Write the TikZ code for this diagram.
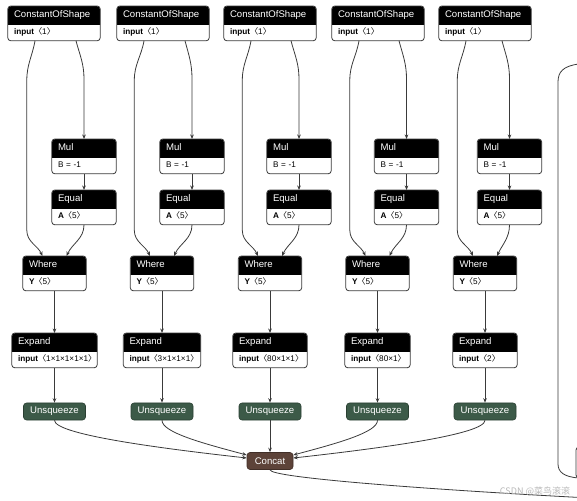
\documentclass[tikz,border=0pt]{standalone}
\usepackage{fontspec}
\usetikzlibrary{arrows.meta}
\newfontfamily\netfont{Liberation Sans}
\newfontfamily\cjkfont{Noto Sans CJK SC}
\definecolor{unsqgreen}{HTML}{3C5A48}
\definecolor{concatbrown}{HTML}{5D4339}
\definecolor{wire}{HTML}{3A3A3A}
\def\shp#1{{\cjkfont 〈}#1{\cjkfont 〉}}
\def\opnode(#1)(#2)[#3]#4#5{%
  \node[ophead, text width=#3] (#1) at (#2) {#4};
  \node[opbody, text width=#3] (#1b) at (#1.south) {#5};
  \draw[opframe] (#1.north west) rectangle (#1b.south east);}
\tikzset{
  ophead/.style={anchor=north, minimum height=18pt, inner xsep=6pt, inner ysep=0pt,
    text height=7pt, text depth=2pt, align=left, text=white,
    font=\netfont\fontsize{9.6}{11}\selectfont,
    path picture={\fill[black, rounded corners=3pt] (path picture bounding box.north west)
      rectangle ([yshift=-6pt]path picture bounding box.south east);}},
  opbody/.style={anchor=north, minimum height=16pt, inner xsep=6pt, inner ysep=0pt,
    text height=6pt, text depth=2pt, align=left, font=\netfont\fontsize{8.2}{10}\selectfont},
  opframe/.style={draw=wire, line width=0.8pt, rounded corners=3pt},
  unsq/.style={fill=unsqgreen, draw=unsqgreen!70!black, line width=0.6pt, rounded corners=3pt,
    text=white, font=\netfont\fontsize{9.6}{11}\selectfont, minimum width=62pt,
    minimum height=17pt, inner sep=0pt},
  concatop/.style={unsq, fill=concatbrown, draw=concatbrown!70!black, minimum width=46pt},
  flow/.style={draw=wire, line width=0.8pt, -{Stealth[length=4.5pt,width=3.6pt]}},
  wireline/.style={draw=wire, line width=0.8pt},
}

\begin{document}
\begin{tikzpicture}[x=1pt, y=1pt]
	\useasboundingbox (0,0) rectangle (577,500);
	
	%%%%% NODES %%%%%
	
	\opnode(cs1)(54,494)[80pt]{ConstantOfShape}{\textbf{input}\shp{1}}
	\opnode(cs2)(163,494)[80pt]{ConstantOfShape}{\textbf{input}\shp{1}}
	\opnode(cs3)(270,494)[80pt]{ConstantOfShape}{\textbf{input}\shp{1}}
	\opnode(cs4)(378,494)[80pt]{ConstantOfShape}{\textbf{input}\shp{1}}
	\opnode(cs5)(485,494)[80pt]{ConstantOfShape}{\textbf{input}\shp{1}}
	
	\opnode(mul1)(84,361)[52pt]{Mul}{B = -1}
	\opnode(mul2)(192,361)[52pt]{Mul}{B = -1}
	\opnode(mul3)(299,361)[52pt]{Mul}{B = -1}
	\opnode(mul4)(406.5,361)[52pt]{Mul}{B = -1}
	\opnode(mul5)(509.5,361)[52pt]{Mul}{B = -1}
	
	\opnode(eq1)(84,310)[52pt]{Equal}{\textbf{A}\shp{5}}
	\opnode(eq2)(192,310)[52pt]{Equal}{\textbf{A}\shp{5}}
	\opnode(eq3)(299,310)[52pt]{Equal}{\textbf{A}\shp{5}}
	\opnode(eq4)(406.5,310)[52pt]{Equal}{\textbf{A}\shp{5}}
	\opnode(eq5)(509.5,310)[52pt]{Equal}{\textbf{A}\shp{5}}
	
	\opnode(where1)(54.5,244)[51pt]{Where}{\textbf{Y}\shp{5}}
	\opnode(where2)(162,244)[51pt]{Where}{\textbf{Y}\shp{5}}
	\opnode(where3)(270,244)[51pt]{Where}{\textbf{Y}\shp{5}}
	\opnode(where4)(377.5,244)[51pt]{Where}{\textbf{Y}\shp{5}}
	\opnode(where5)(485,244)[51pt]{Where}{\textbf{Y}\shp{5}}
	
	\opnode(exp1)(54.5,167)[73pt]{Expand}{\textbf{input}\shp{1×1×1×1×1}}
	\opnode(exp2)(162,167)[65pt]{Expand}{\textbf{input}\shp{3×1×1×1}}
	\opnode(exp3)(270,167)[62pt]{Expand}{\textbf{input}\shp{80×1×1}}
	\opnode(exp4)(377.5,167)[53pt]{Expand}{\textbf{input}\shp{80×1}}
	\opnode(exp5)(485,167)[52pt]{Expand}{\textbf{input}\shp{2}}
	
	\node[unsq] (unsq1) at (54.5,88.5) {Unsqueeze};
	\node[unsq] (unsq2) at (162,88.5) {Unsqueeze};
	\node[unsq] (unsq3) at (270,88.5) {Unsqueeze};
	\node[unsq] (unsq4) at (377.5,88.5) {Unsqueeze};
	\node[unsq] (unsq5) at (485,88.5) {Unsqueeze};
	
	\node[concatop] (concat) at (270,39) {Concat};
	
	%%%%% EDGES %%%%%
	
	\draw[flow] ([xshift=-19pt]cs1b.south) to[out=-100,in=90] ([xshift=4pt,yshift=185pt]where1.west)
		-- ([xshift=4pt,yshift=35pt]where1.west) to[out=-90,in=115] ([xshift=-12pt]where1.north);
	\draw[flow] ([xshift=-19pt]cs2b.south) to[out=-100,in=90] ([xshift=4pt,yshift=185pt]where2.west)
		-- ([xshift=4pt,yshift=35pt]where2.west) to[out=-90,in=115] ([xshift=-12pt]where2.north);
	\draw[flow] ([xshift=-19pt]cs3b.south) to[out=-100,in=90] ([xshift=4pt,yshift=185pt]where3.west)
		-- ([xshift=4pt,yshift=35pt]where3.west) to[out=-90,in=115] ([xshift=-12pt]where3.north);
	\draw[flow] ([xshift=-19pt]cs4b.south) to[out=-100,in=90] ([xshift=4pt,yshift=185pt]where4.west)
		-- ([xshift=4pt,yshift=35pt]where4.west) to[out=-90,in=115] ([xshift=-12pt]where4.north);
	\draw[flow] ([xshift=-19pt]cs5b.south) to[out=-100,in=90] ([xshift=4pt,yshift=185pt]where5.west)
		-- ([xshift=4pt,yshift=35pt]where5.west) to[out=-90,in=115] ([xshift=-12pt]where5.north);
	
	\draw[flow] ([xshift=22pt]cs1b.south) to[out=-75,in=90] ([yshift=60pt]mul1.north) -- (mul1.north);
	\draw[flow] ([xshift=22pt]cs2b.south) to[out=-75,in=90] ([yshift=60pt]mul2.north) -- (mul2.north);
	\draw[flow] ([xshift=21pt]cs3b.south) to[out=-75,in=90] ([yshift=60pt]mul3.north) -- (mul3.north);
	\draw[flow] ([xshift=21pt]cs4b.south) to[out=-75,in=90] ([yshift=60pt]mul4.north) -- (mul4.north);
	\draw[flow] ([xshift=17pt]cs5b.south) to[out=-75,in=90] ([yshift=60pt]mul5.north) -- (mul5.north);
	
	\draw[flow] (mul1b.south) -- (eq1.north);
	\draw[flow] (mul2b.south) -- (eq2.north);
	\draw[flow] (mul3b.south) -- (eq3.north);
	\draw[flow] (mul4b.south) -- (eq4.north);
	\draw[flow] (mul5b.south) -- (eq5.north);
	
	\draw[flow] (eq1b.south) to[out=-90,in=65] ([xshift=12pt]where1.north);
	\draw[flow] (eq2b.south) to[out=-90,in=65] ([xshift=12pt]where2.north);
	\draw[flow] (eq3b.south) to[out=-90,in=65] ([xshift=12pt]where3.north);
	\draw[flow] (eq4b.south) to[out=-90,in=65] ([xshift=12pt]where4.north);
	\draw[flow] (eq5b.south) to[out=-90,in=65] ([xshift=12pt]where5.north);
	
	\draw[flow] (where1b.south) -- (exp1.north);
	\draw[flow] (where2b.south) -- (exp2.north);
	\draw[flow] (where3b.south) -- (exp3.north);
	\draw[flow] (where4b.south) -- (exp4.north);
	\draw[flow] (where5b.south) -- (exp5.north);
	
	\draw[flow] (exp1b.south) -- (unsq1.north);
	\draw[flow] (exp2b.south) -- (unsq2.north);
	\draw[flow] (exp3b.south) -- (unsq3.north);
	\draw[flow] (exp4b.south) -- (unsq4.north);
	\draw[flow] (exp5b.south) -- (unsq5.north);
	
	\draw[flow] (unsq1.south) .. controls +(0,-14) and +(-90,10) .. ([yshift=3pt]concat.west);
	\draw[flow] (unsq2.south) .. controls +(0,-12) and +(-45,12) .. ([yshift=6pt]concat.west);
	\draw[flow] (unsq3.south) -- (concat.north);
	\draw[flow] (unsq4.south) .. controls +(0,-12) and +(45,12) .. ([yshift=6pt]concat.east);
	\draw[flow] (unsq5.south) .. controls +(0,-14) and +(90,10) .. ([yshift=3pt]concat.east);
	
	%%%%% RIGHT BORDER %%%%%
	
	\coordinate (outR) at (580,2.5);
	\coordinate (rtop) at (579,436);
	\coordinate (rbot) at (579,22);
	\draw[wireline] (concat.south) .. controls +(0,-8) and +(-150,8) .. (outR);
	\draw[wireline] (rtop) .. controls (563,434) and (558,428) .. (558,418) -- (558,36)
		.. controls (558,28) and (564,23) .. (rbot);
	\draw[opframe] (576,22) rectangle (620,53);
	
	\node[text=black!28, font=\cjkfont\fontsize{9}{10}\selectfont] (mark) at (535,9) {CSDN @菜鸟滚滚};
	
\end{tikzpicture}
\end{document}
